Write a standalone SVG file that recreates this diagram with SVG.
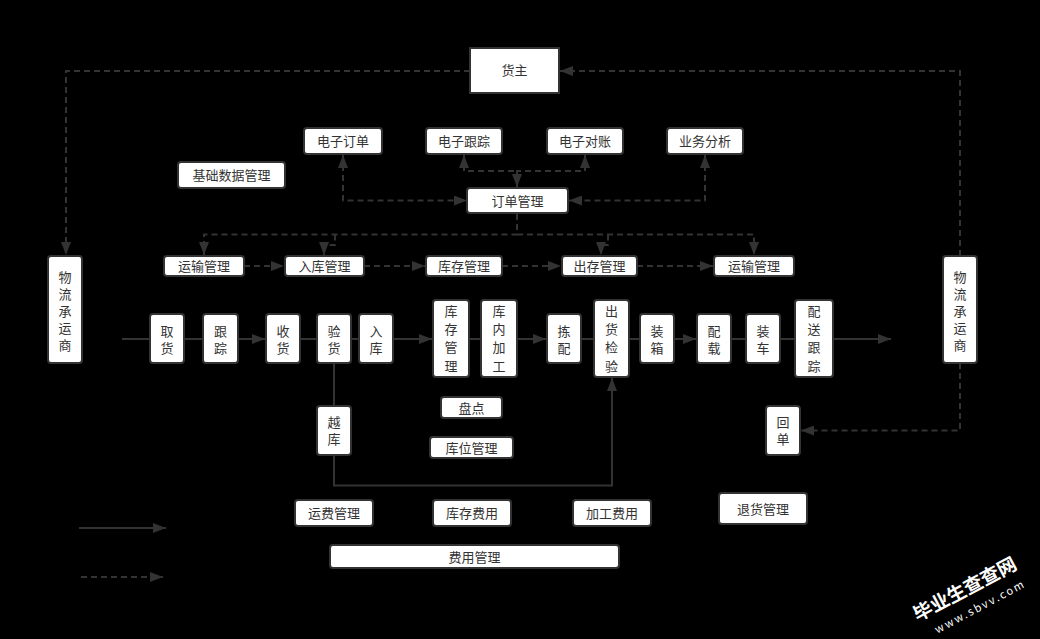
<svg xmlns="http://www.w3.org/2000/svg" width="1040" height="639" viewBox="0 0 1040 639">
<defs>
<style>
.n rect{fill:#fff;stroke:#333;stroke-width:2}
.n text{font-family:"Liberation Sans","Noto Sans CJK SC",sans-serif;font-size:13px;fill:#333;text-anchor:middle}
.c path,.c line{fill:none;stroke:#333;stroke-width:2}
.d{stroke-dasharray:6,4}
.wm{font-family:"Noto Sans CJK SC",sans-serif;fill:#fff;text-anchor:middle}
</style>
<marker id="a" viewBox="0 0 13 10" refX="13" refY="5" markerWidth="13" markerHeight="10" orient="auto-start-reverse" markerUnits="userSpaceOnUse"><path d="M0,0 L13,5 L0,10 z" fill="#333"/></marker>
</defs>
<rect width="1040" height="639" fill="#000"/>
<g class="c">
<path class="d" d="M470,71 H66 V255" marker-end="url(#a)"/>
<path class="d" d="M960,256 V71 H560" marker-end="url(#a)"/>
<path class="d" d="M343,155 V200.5 H467" marker-start="url(#a)" marker-end="url(#a)"/>
<path class="d" d="M464,155 V171 H517 V187" marker-start="url(#a)" marker-end="url(#a)"/>
<path class="d" d="M585,155 V171 H517 V187" marker-start="url(#a)"/>
<path class="d" d="M705,155 V200.5 H569" marker-start="url(#a)" marker-end="url(#a)"/>
<path class="d" d="M517,214 V234.5 H204 V255" marker-end="url(#a)"/>
<path class="d" d="M517,234.5 H754 V255" marker-end="url(#a)"/>
<path class="d" d="M335,234.5 V245 H324 V255" marker-end="url(#a)"/>
<path class="d" d="M608,234.5 V245 H601 V255" marker-end="url(#a)"/>
<path class="d" d="M244,266 H284" marker-end="url(#a)"/>
<path class="d" d="M364,266 H425" marker-end="url(#a)"/>
<path class="d" d="M502,266 H561" marker-end="url(#a)"/>
<path class="d" d="M637,266 H713" marker-end="url(#a)"/>
<path class="d" d="M960,363 V430.5 H801" marker-end="url(#a)"/>
<path d="M122,339 H150"/>
<path d="M184,339 H203"/>
<path d="M238,339 H265" marker-end="url(#a)"/>
<path d="M300,339 H317"/>
<path d="M351,339 H359"/>
<path d="M393,339 H432" marker-end="url(#a)"/>
<path d="M469,339 H481"/>
<path d="M517,339 H546" marker-end="url(#a)"/>
<path d="M581,339 H594"/>
<path d="M629,339 H640"/>
<path d="M674,339 H696" marker-end="url(#a)"/>
<path d="M731,339 H746"/>
<path d="M780,339 H795"/>
<path d="M833,339 H891" marker-end="url(#a)"/>
<path d="M334,363 V406"/>
<path d="M334,455 V485.5 H612 V378" marker-end="url(#a)"/>
<path d="M79,528 H166" marker-end="url(#a)"/>
<path class="d" d="M81,577 H163" marker-end="url(#a)"/>
</g>
<g id="huozhu" class="n"><rect x="470" y="48" width="89" height="45"/><text x="514.5" y="75">货主</text></g>
<g id="dzdd" class="n"><rect x="304" y="128" width="78" height="26" rx="3"/><text x="343" y="146">电子订单</text></g>
<g id="dzgz" class="n"><rect x="426" y="128" width="76" height="26" rx="3"/><text x="464" y="146">电子跟踪</text></g>
<g id="dzdz" class="n"><rect x="547" y="128" width="76" height="26" rx="3"/><text x="585" y="146">电子对账</text></g>
<g id="ywfx" class="n"><rect x="667" y="128" width="76" height="26" rx="3"/><text x="705" y="146">业务分析</text></g>
<g id="jcsj" class="n"><rect x="178" y="162" width="107" height="26" rx="3"/><text x="231.5" y="180">基础数据管理</text></g>
<g id="ddgl" class="n"><rect x="467" y="188" width="101" height="25" rx="3"/><text x="517.5" y="205.5">订单管理</text></g>
<g id="ysgl1" class="n"><rect x="164" y="256" width="80" height="20" rx="3"/><text x="204" y="271">运输管理</text></g>
<g id="rkgl" class="n"><rect x="285" y="256" width="79" height="20" rx="3"/><text x="324.5" y="271">入库管理</text></g>
<g id="kcgl1" class="n"><rect x="426" y="256" width="76" height="20" rx="3"/><text x="464" y="271">库存管理</text></g>
<g id="ccgl" class="n"><rect x="562" y="256" width="75" height="20" rx="3"/><text x="599.5" y="271">出存管理</text></g>
<g id="ysgl2" class="n"><rect x="714" y="256" width="80" height="20" rx="3"/><text x="754" y="271">运输管理</text></g>
<g id="wlcys1" class="n"><rect x="48" y="256" width="34" height="107" rx="3"/><text x="65" y="282">物</text><text x="65" y="299">流</text><text x="65" y="316">承</text><text x="65" y="333">运</text><text x="65" y="350">商</text></g>
<g id="wlcys2" class="n"><rect x="943" y="256" width="34" height="107" rx="3"/><text x="960" y="282">物</text><text x="960" y="299">流</text><text x="960" y="316">承</text><text x="960" y="333">运</text><text x="960" y="350">商</text></g>
<g id="quhuo" class="n"><rect x="150" y="314" width="34" height="49" rx="3"/><text x="167" y="336">取</text><text x="167" y="353">货</text></g>
<g id="genzong" class="n"><rect x="203" y="314" width="35" height="49" rx="3"/><text x="220.5" y="336">跟</text><text x="220.5" y="353">踪</text></g>
<g id="shouhuo" class="n"><rect x="266" y="314" width="34" height="49" rx="3"/><text x="283" y="336">收</text><text x="283" y="353">货</text></g>
<g id="yanhuo" class="n"><rect x="317" y="314" width="34" height="49" rx="3"/><text x="334" y="336">验</text><text x="334" y="353">货</text></g>
<g id="ruku" class="n"><rect x="359" y="314" width="34" height="49" rx="3"/><text x="376" y="336">入</text><text x="376" y="353">库</text></g>
<g id="kcgl2" class="n"><rect x="433" y="300" width="36" height="77" rx="3"/><text x="451" y="316">库</text><text x="451" y="334">存</text><text x="451" y="352">管</text><text x="451" y="371">理</text></g>
<g id="knjg" class="n"><rect x="481" y="300" width="36" height="77" rx="3"/><text x="499" y="316">库</text><text x="499" y="334">内</text><text x="499" y="352">加</text><text x="499" y="371">工</text></g>
<g id="jianpei" class="n"><rect x="547" y="314" width="34" height="49" rx="3"/><text x="564" y="336">拣</text><text x="564" y="353">配</text></g>
<g id="chjy" class="n"><rect x="594" y="300" width="35" height="77" rx="3"/><text x="611.5" y="316">出</text><text x="611.5" y="334">货</text><text x="611.5" y="352">检</text><text x="611.5" y="371">验</text></g>
<g id="zhuangxiang" class="n"><rect x="640" y="314" width="34" height="49" rx="3"/><text x="657" y="336">装</text><text x="657" y="353">箱</text></g>
<g id="peizai" class="n"><rect x="697" y="314" width="34" height="49" rx="3"/><text x="714" y="336">配</text><text x="714" y="353">载</text></g>
<g id="zhuangche" class="n"><rect x="746" y="314" width="34" height="49" rx="3"/><text x="763" y="336">装</text><text x="763" y="353">车</text></g>
<g id="psgz" class="n"><rect x="795" y="300" width="38" height="77" rx="3"/><text x="814" y="316">配</text><text x="814" y="334">送</text><text x="814" y="352">跟</text><text x="814" y="371">踪</text></g>
<g id="huidan" class="n"><rect x="766" y="406" width="34" height="49" rx="3"/><text x="783" y="427">回</text><text x="783" y="444">单</text></g>
<g id="yueku" class="n"><rect x="317" y="406" width="34" height="49" rx="3"/><text x="334" y="427">越</text><text x="334" y="444">库</text></g>
<g id="pandian" class="n"><rect x="441" y="397" width="61" height="21" rx="3"/><text x="471.5" y="412.5">盘点</text></g>
<g id="kwgl" class="n"><rect x="430" y="437" width="83" height="21" rx="3"/><text x="471.5" y="452.5">库位管理</text></g>
<g id="yfgl" class="n"><rect x="295" y="500" width="78" height="26" rx="3"/><text x="334" y="518">运费管理</text></g>
<g id="kcfy" class="n"><rect x="433" y="500" width="78" height="26" rx="3"/><text x="472" y="518">库存费用</text></g>
<g id="jgfy" class="n"><rect x="573" y="500" width="78" height="26" rx="3"/><text x="612" y="518">加工费用</text></g>
<g id="fygl" class="n"><rect x="330" y="545" width="289" height="23" rx="3"/><text x="474.5" y="561.5">费用管理</text></g>
<g id="thgl" class="n"><rect x="719" y="493" width="88" height="31" rx="3"/><text x="763" y="513.5">退货管理</text></g>
<g id="watermark">
<text class="wm" transform="translate(968,595) rotate(-28)" font-size="19" font-weight="bold">毕业生查查网</text>
<text class="wm" transform="translate(982,610) rotate(-28)" font-size="11" letter-spacing="2" font-family="Liberation Mono, monospace">www.sbvv.com</text>
</g>
</svg>
